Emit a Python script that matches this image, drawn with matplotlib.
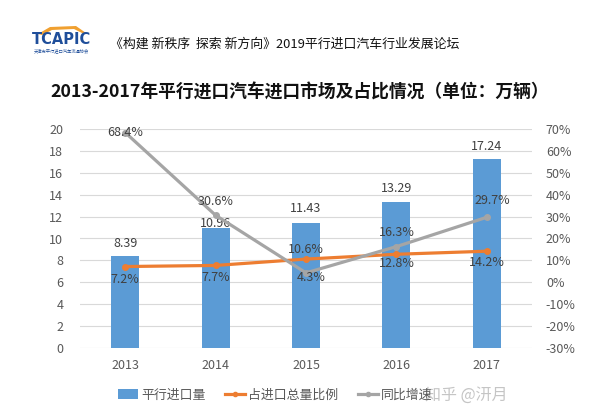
import matplotlib
matplotlib.use('Agg')
import matplotlib.pyplot as plt
from matplotlib.lines import Line2D
from matplotlib.patches import Patch, Polygon

plt.rcParams['font.family'] = ['Noto Sans CJK SC', 'DejaVu Sans']

# 数据
years = ['2013', '2014', '2015', '2016', '2017']
volume = [8.39, 10.96, 11.43, 13.29, 17.24]          # 平行进口量（万辆）
share = [7.2, 7.7, 10.6, 12.8, 14.2]                 # 占进口总量比例（%）
growth = [68.4, 30.6, 4.3, 16.3, 29.7]               # 同比增速（%）

BLUE = '#5B9BD5'
ORANGE = '#ED7D31'
GRAY = '#A5A5A5'
TXT = '#404040'
TICK = '#595959'

fig = plt.figure(figsize=(6, 4.2), dpi=100)
fig.patch.set_facecolor('white')

# 标志
roof = [[38, 34], [50, 27], [76, 26], [86, 33], [82, 33], [74, 29], [52, 30], [42, 35]]
fig.patches.append(Polygon([[px / 600, 1 - py / 420] for px, py in roof],
                           closed=True, transform=fig.transFigure,
                           facecolor='#F0A030', edgecolor='none'))
fig.text(61 / 600, 1 - 40 / 420, 'TCAPIC', ha='center', va='center',
         fontsize=10.5, fontweight='bold', color='#1F4E9A', family='DejaVu Sans Condensed')
fig.text(61 / 600, 1 - 50.5 / 420, '天津市平行进口汽车流通协会', ha='center', va='center',
         fontsize=3.1, color='#1F4E9A')

fig.text(110 / 600, 1 - 44 / 420, '《构建 新秩序  探索 新方向》2019平行进口汽车行业发展论坛',
         ha='left', va='center', fontsize=9.3, color='#111111')
fig.text(300 / 600, 1 - 93 / 420, '2013-2017年平行进口汽车进口市场及占比情况（单位：万辆）',
         ha='center', va='center', fontsize=12.8, fontweight='bold', color='#111111')

ax = fig.add_axes([80 / 600, 1 - 348 / 420, 452 / 600, 219 / 420])
x = list(range(len(years)))
bars = ax.bar(x, volume, width=0.31, color=BLUE, zorder=2)
ax.set_xlim(-0.5, len(years) - 0.5)
ax.set_ylim(0, 20)
ax.set_yticks(range(0, 21, 2))
ax.set_xticks(x)
ax.set_xticklabels(years)
ax.grid(axis='y', color='#D9D9D9', linewidth=0.8, zorder=0)
ax.set_axisbelow(True)
for s in ax.spines.values():
    s.set_visible(False)
ax.tick_params(length=0, colors=TICK, labelsize=9, pad=8)
ax.tick_params(axis='y', pad=12)

ax2 = ax.twinx()
ax2.set_ylim(-30, 70)
ax2.set_yticks(range(-30, 71, 10))
ax2.set_yticklabels([f'{v}%' for v in range(-30, 71, 10)])
for s in ax2.spines.values():
    s.set_visible(False)
ax2.tick_params(length=0, colors=TICK, labelsize=9, pad=10)

ax2.plot(x, share, color=ORANGE, linewidth=2.3, marker='o', markersize=4, zorder=3)
ax2.plot(x, growth, color=GRAY, linewidth=2.3, marker='o', markersize=4, zorder=3)

# 数据标签
bar_dy = [9, 3, 10, 10, 9]
for xi, v, dy in zip(x, volume, bar_dy):
    ax.annotate(f'{v:.2f}', (xi, v), xytext=(0, dy), textcoords='offset points',
                ha='center', va='center', fontsize=9, color=TXT)
share_dy = [-9, -9, 7, -7, -8]
for xi, v, dy in zip(x, share, share_dy):
    ax2.annotate(f'{v}%', (xi, v), xytext=(0, dy), textcoords='offset points',
                 ha='center', va='center', fontsize=9, color=TXT)
growth_dx = [0, 0, 4, 0, 4]
growth_dy = [0, 10, -3, 10, 12]
for xi, v, dx, dy in zip(x, growth, growth_dx, growth_dy):
    ax2.annotate(f'{v}%', (xi, v), xytext=(dx, dy), textcoords='offset points',
                 ha='center', va='center', fontsize=9, color=TXT)

handles = [Patch(facecolor=BLUE),
           Line2D([0], [0], color=ORANGE, linewidth=2.3, marker='o', markersize=3),
           Line2D([0], [0], color=GRAY, linewidth=2.3, marker='o', markersize=3)]
fig.legend(handles, ['平行进口量', '占进口总量比例', '同比增速'],
           loc='center', bbox_to_anchor=(275 / 600, 1 - 395 / 420), ncol=3,
           frameon=False, fontsize=9.3, handlelength=1.6, handletextpad=0.2,
           columnspacing=1.5, labelcolor=TICK)

fig.text(508 / 600, 1 - 395 / 420, '知乎 @汧月', ha='right', va='center',
         fontsize=11.5, color='#BBBBBB', alpha=0.85)

fig.savefig('out.png', dpi=100, facecolor='white')
